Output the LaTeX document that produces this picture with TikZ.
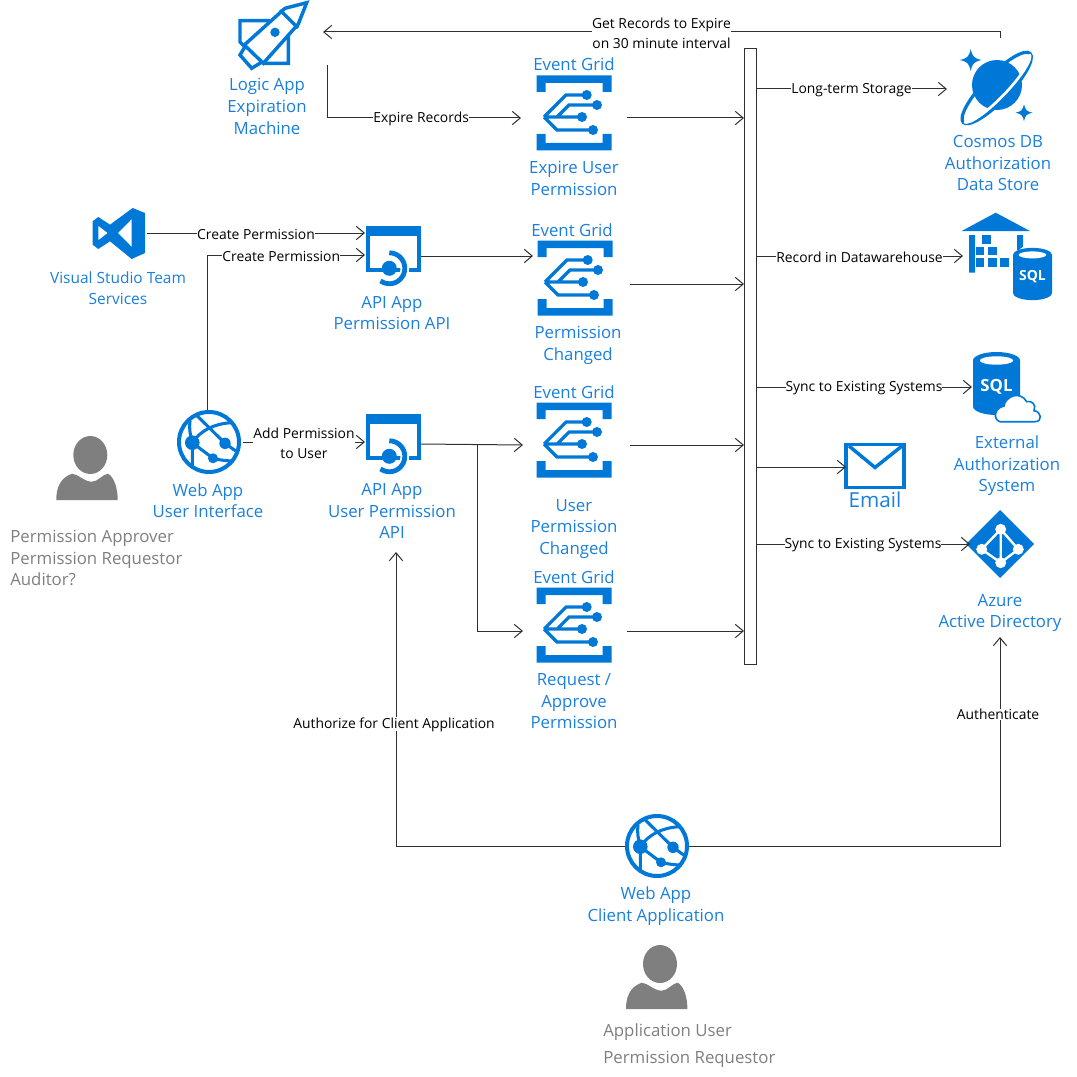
\documentclass[tikz,border=0pt]{standalone}
\usepackage{fontspec}
\setmainfont{Open Sans}
\usetikzlibrary{arrows.meta}

\definecolor{azure}{HTML}{0078D7}
\definecolor{azuretext}{HTML}{1A7FDC}
\definecolor{persongrey}{HTML}{7F7F7F}
\definecolor{wire}{HTML}{303030}

\tikzset{
  flow/.style={draw=wire,line width=.75pt,-{Straight Barb[length=6pt,width=10pt]}},
  bluelabel/.style={text=azuretext,align=center,inner sep=0pt,font=\fontsize{12.6}{16.2}\selectfont},
  greylabel/.style={text=persongrey,align=left,inner sep=0pt,anchor=west,font=\fontsize{12.6}{16.2}\selectfont},
  edgelabel/.style={fill=white,text=black,align=center,inner sep=0pt,yshift=-1pt,font=\fontsize{10.4}{14.6}\selectfont},
  iconbox/.style={inner sep=0pt,outer sep=0pt},
  eventgrid/.pic={
    \fill[azure] (-37.5,-37.5) rectangle (37.5,-30) (-37.5,-30) rectangle (-28.5,-21) (37.5,-30) rectangle (28.5,-21);
    \fill[azure] (-37.5,37.5) rectangle (37.5,30) (-37.5,30) rectangle (-28.5,21) (37.5,30) rectangle (28.5,21);
    \draw[azure,line width=2.4pt] (-30,4) -- (-8,-18) -- (12,-18) (-17,4) -- (-5,-8) -- (23,-8) (-30,4) -- (8,4) (-30,4) -- (-17,17) -- (19,17);
    \foreach \cx/\cy/\cr in {12.7/-18/5,23/-8/5,8/4/5,19/17/5}
      \fill[azure] (\cx,\cy) circle[radius=\cr];
  },
  apiapp/.pic={
    \fill[azure] (-27.5,-30) rectangle (27.5,16);
    \fill[white] (-23.5,-20) rectangle (23.5,12);
    \draw[white,line width=6.5pt] (-4,12.3) ++(-90:15.5) arc[start angle=-90,end angle=125,radius=15.5];
    \draw[azure,line width=3.6pt] (-4,12.3) ++(-90:15.5) arc[start angle=-90,end angle=125,radius=15.5];
    \fill[azure] (-4,12.3) circle[radius=7.5];
  },
  webapp/.pic={
    \draw[azure,line width=3pt] (0,0) circle[radius=30];
    \draw[azure,line width=2.3pt] (-11.7,-26) -- (16,1.3) -- (26.7,9)
      (-16.7,.7) .. controls (-8,-12) and (5,-18) .. (21.7,-19.3)
      (-16.7,.7) .. controls (-19,-8) and (-20,-14) .. (-19,-21)
      (-16.7,.7) -- (4,16.3) .. controls (10,18) and (18,19) .. (25,19)
      (-16.7,.7) -- (-16.7,24);
    \fill[azure] (-16.7,.7) circle[radius=7.3] (16,1.3) circle[radius=5.7] (4,16.3) circle[radius=5];
  },
  person/.pic={
    \fill[persongrey] (3.3,-13) ellipse[x radius=17,y radius=19];
    \fill[persongrey] (-30.7,32) .. controls (-30.7,20) and (-27,10) .. (-15,5.7)
      .. controls (-9,6) and (-3,13.7) .. (5,13.7) .. controls (11,13.7) and (16,6) .. (21,5.7)
      .. controls (27,9) and (30.7,20) .. (30.7,32) -- cycle;
  },
  rocket/.pic={
    \draw[azure,line width=2.6pt,line join=miter] (33.7,-31.3) -- (12,-25.7) -- (-28.7,11) -- (-9.7,29.3) -- (25.3,-10) -- cycle;
    \draw[azure,line width=2.6pt,line join=miter] (7,-24) -- (25,-6)
      (-3,-13.3) -- (-33,-13.3) -- (-33,8) -- (-28,13)
      (15.3,2) -- (15.3,29.3) -- (-9.7,29.3)
      (-28,12.7) -- (-33,21) -- (-21.3,34.3) -- (-11,28);
    \fill[azure] (2,-1.7) circle[radius=4.7];
  },
  vslogo/.pic={
    \fill[azure,even odd rule] (13.7,-25) -- (26,-20) -- (26,20) -- (12.7,26) -- (-9,8.3) -- (-20.7,16) -- (-26.3,11.7) -- (-26.3,-11.7) -- (-20.7,-16) -- (-9,-8.3) -- cycle
      (-20.7,-7.3) -- (-11.3,0) -- (-20.7,7.3) -- cycle
      (12.7,-14) -- (-1,0) -- (12.7,14) -- cycle;
  },
  sparkle/.pic={
    \fill[azure] (0,-1) .. controls (.15,-.3) and (.3,-.15) .. (1,0) .. controls (.3,.15) and (.15,.3) .. (0,1)
      .. controls (-.15,.3) and (-.3,.15) .. (-1,0) .. controls (-.3,-.15) and (-.15,-.3) .. (0,-1) -- cycle;
  },
  cosmos/.pic={
    \begin{scope}[shift={(.7,2)},rotate=46]
      \draw[azure,line width=2.4pt] (0,0) ellipse[x radius=48,y radius=13];
    \end{scope}
    \fill[azure] (1,-1) circle[radius=25];
    \begin{scope}[shift={(.7,2)},rotate=46]
      \draw[white,line width=2pt] (-47,0) arc[start angle=180,end angle=0,x radius=47,y radius=9.8];
    \end{scope}
    \pic[shift={(-25.3,-26)},scale=11] {sparkle};
    \pic[shift={(28,26.7)},scale=8.5] {sparkle};
  },
  sqlcyl/.pic={
    \fill[azure] (-23.5,-23) arc[start angle=180,end angle=360,x radius=23.5,y radius=8.5] -- (23.5,23)
      arc[start angle=0,end angle=180,x radius=23.5,y radius=8.5] -- cycle;
    \fill[white] (0,-23) ellipse[x radius=16.7,y radius=4.2];
    \node[transform shape,text=white,inner sep=0pt,font=\fontsize{12.6}{14}\selectfont\bfseries] (-word) at (0,3) {SQL};
  },
  warehouse/.pic={
    \fill[azure] (-10.3,-43.3) -- (24,-25) -- (-44.3,-25) -- cycle;
    \fill[azure] (-37,-21) rectangle (-31,16.7) (11,-21) rectangle (17,-6);
    \foreach \bx/\by in {-23.7/-21,-30.3/-9.3,-18/-9.3,-30.3/2.3,-18/2.3,-5.7/2.3}
      \fill[azure] (\bx,\by) rectangle ++(8.7,8.7);
    \fill[white] (26.5,18) ellipse[x radius=22.5,y radius=30];
    \pic[shift={(26.5,18)},scale=.83] {sqlcyl};
  },
  cloudmark/.pic={
    \draw[azure,fill=white,line width=1.2pt] (-17,12.7) .. controls (-23.7,11) and (-23.7,-.7) .. (-13,-3)
      .. controls (-12,-12.3) and (3,-19) .. (9.7,-7.3) .. controls (14.7,-9) and (19.7,-4) .. (17,1.7)
      .. controls (24.7,2.7) and (25.7,12.7) .. (18,12.7) -- cycle;
  },
  aad/.pic={
    \fill[azure] (0,-34) -- (34,0) -- (0,34) -- (-34,0) -- cycle;
    \draw[white,line width=1.8pt] (.7,-14.7) -- (-18.3,5.3) -- (.7,18.7) -- (18.3,5.3) -- cycle (.7,-14.7) -- (.7,18.7);
    \fill[white] (.7,-14.7) circle[radius=5.5] (-18.3,5.3) circle[radius=5.5] (18.3,5.3) circle[radius=5.5] (.7,18.7) circle[radius=5.5];
  },
  envelope/.pic={
    \draw[azure,line width=2.6pt,line join=miter] (-29,-21.5) rectangle (29,21.5);
    \draw[azure,line width=2.6pt] (-26,-20) -- (0,1.5) -- (27,-20);
  }
}

\begin{document}
\begin{tikzpicture}[x=.75pt,y=-.75pt]
\useasboundingbox (0,0) rectangle (1076,1077);

% bus
\node[draw=wire,fill=white,line width=.75pt,minimum width=9pt,minimum height=461.25pt,inner sep=0pt,outer sep=0pt] (bus) at (750,356.5) {};

% icons
\pic at (273,34) {rocket};
\pic at (574,113) {eventgrid};
\pic at (575,278) {eventgrid};
\pic at (574,440) {eventgrid};
\pic at (574,625) {eventgrid};
\pic at (119,233) {vslogo};
\pic at (393.3,256) {apiapp};
\pic at (393.3,444) {apiapp};
\pic at (209,442) {webapp};
\pic at (657,846) {webapp};
\pic at (87,468) {person};
\pic at (656.7,977) {person};
\pic at (996,86) {cosmos};
\pic at (1006,256) {warehouse};
\pic at (996.5,383.5) {sqlcyl};
\pic at (1017,409) {cloudmark};
\pic at (1000,544) {aad};
\pic at (875,466) {envelope};

% connector ends
\node[iconbox,minimum width=79.5pt] (gridA) at (574,118) {};
\node[iconbox,minimum width=72.75pt,minimum height=21pt] (gridB) at (581.5,270) {};
\node[iconbox,minimum width=80.25pt] (gridC) at (576.5,445) {};
\node[iconbox,minimum width=78pt] (gridD) at (575,631) {};
\node[iconbox,minimum width=41.25pt] (apiA) at (393,256) {};
\node[iconbox,minimum width=41.25pt] (apiB) at (393,444) {};
\coordinate (apiAin) at (365,233);
\coordinate (apiAin2) at (365,255);
\coordinate (apiBin) at (365,442);
\coordinate (apiBtap) at (477,444);
\coordinate (apiBup) at (396,552);
\coordinate (logicOut) at (327,65);
\coordinate (logicIn) at (323,32);
\coordinate (logicBend) at (327,118);
\coordinate (cosmosOut) at (1000,38);
\coordinate (cosmosTop) at (1000,32);
\coordinate (vsOut) at (147,233);
\coordinate (webTop) at (207,410);
\coordinate (webBend) at (207,255);
\coordinate (webOut) at (243,442);
\coordinate (clientL) at (625,846);
\coordinate (clientR) at (689,846);
\coordinate (clientBendL) at (396,846);
\coordinate (clientBendR) at (1000,846);
\coordinate (aadIn) at (1000,637);
\coordinate (toCosmos) at (947,89);
\coordinate (toDwh) at (963,256);
\coordinate (toSql) at (972,387);
\coordinate (toMail) at (846,467);
\coordinate (toAad) at (970,544);

% connectors
\draw[flow] (cosmosOut) -- (cosmosTop) -- node[edgelabel] (lblExpire) {Get Records to Expire\\on 30 minute interval} (logicIn);
\draw[flow] (logicOut) -- (logicBend) -- node[edgelabel,pos=.485] (lblRecords) {Expire Records} (gridA.west);
\draw[flow] (gridA.east) -- (gridA.east -| bus.west);
\draw[flow] (vsOut) -- node[edgelabel] (lblVs) {Create Permission} (apiAin);
\draw[flow] (webTop) -- (webBend) -- node[edgelabel,pos=.47] (lblWeb) {Create Permission} (apiAin2);
\draw[flow] (webOut) -- node[edgelabel] (lblAdd) {Add Permission\\to User} (apiBin);
\draw[flow] (apiA.east) -- (gridB.north west);
\draw[flow] (gridB.south east) -- (gridB.south east -| bus.west);
\draw[flow] (apiB.east) -- (gridC.west);
\draw[flow] (gridC.east) -- (gridC.east -| bus.west);
\draw[flow] (apiBtap) |- (gridD.west);
\draw[flow] (gridD.east) -- (gridD.east -| bus.west);
\draw[flow] (bus.east |- toCosmos) -- node[edgelabel] (lblStore) {Long-term Storage} (toCosmos);
\draw[flow] (bus.east |- toDwh) -- node[edgelabel] (lblDwh) {Record in Datawarehouse} (toDwh);
\draw[flow] (bus.east |- toSql) -- node[edgelabel] (lblSql) {Sync to Existing Systems} (toSql);
\draw[flow] (bus.east |- toMail) -- (toMail);
\draw[flow] (bus.east |- toAad) -- node[edgelabel] (lblAad) {Sync to Existing Systems} (toAad);
\draw[flow] (clientL) -- (clientBendL) -- node[edgelabel,pos=.418,xshift=-1.5pt] (lblAuth) {Authorize for Client Application} (apiBup);
\draw[flow] (clientR) -- (clientBendR) -- node[edgelabel,pos=.636,xshift=-1.5pt] (lblLogin) {Authenticate} (aadIn);

% texts
\node[bluelabel] (txtLogic) at (267,106.5) {Logic App\\Expiration\\Machine};
\node[bluelabel] (txtGridA) at (574,64) {Event Grid};
\node[bluelabel] (txtExpire) at (574,178.5) {Expire User\\Permission};
\node[bluelabel] (txtCosmos) at (998,163.2) {Cosmos DB\\Authorization\\Data Store};
\node[bluelabel,font=\fontsize{11.6}{16.2}\selectfont] (txtVs) at (118,288) {Visual Studio Team\\Services};
\node[bluelabel] (txtApiA) at (392,313) {API App\\Permission API};
\node[bluelabel] (txtGridB) at (572,230) {Event Grid};
\node[bluelabel] (txtChanged) at (578,345.5) {Permission\\Changed};
\node[bluelabel] (txtGridC) at (574,392) {Event Grid};
\node[bluelabel] (txtUser) at (574,529) {User\\Permission\\Changed};
\node[bluelabel] (txtGridD) at (574,577) {Event Grid};
\node[bluelabel] (txtRequest) at (574,701.2) {Request /\\Approve\\Permission};
\node[bluelabel] (txtWeb) at (208,500.5) {Web App\\User Interface};
\node[bluelabel] (txtApiB) at (392,511.3) {API App\\User Permission\\API};
\node[bluelabel] (txtExternal) at (1007,466) {External\\Authorization\\System};
\node[bluelabel] (txtAzure) at (1000,613) {Azure\\Active Directory};
\node[bluelabel] (txtClient) at (656,906) {Web App\\Client Application};
\node[bluelabel,font=\fontsize{15.5}{16}\selectfont] (txtEmail) at (875,500) {Email};
\node[greylabel] (txtRoles) at (10,558.2) {Permission Approver\\Permission Requestor\\Auditor?};
\node[greylabel] (txtAppUser) at (603,1032) {Application User};
\node[greylabel] (txtAppRole) at (603,1059) {Permission Requestor};
\end{tikzpicture}
\end{document}
